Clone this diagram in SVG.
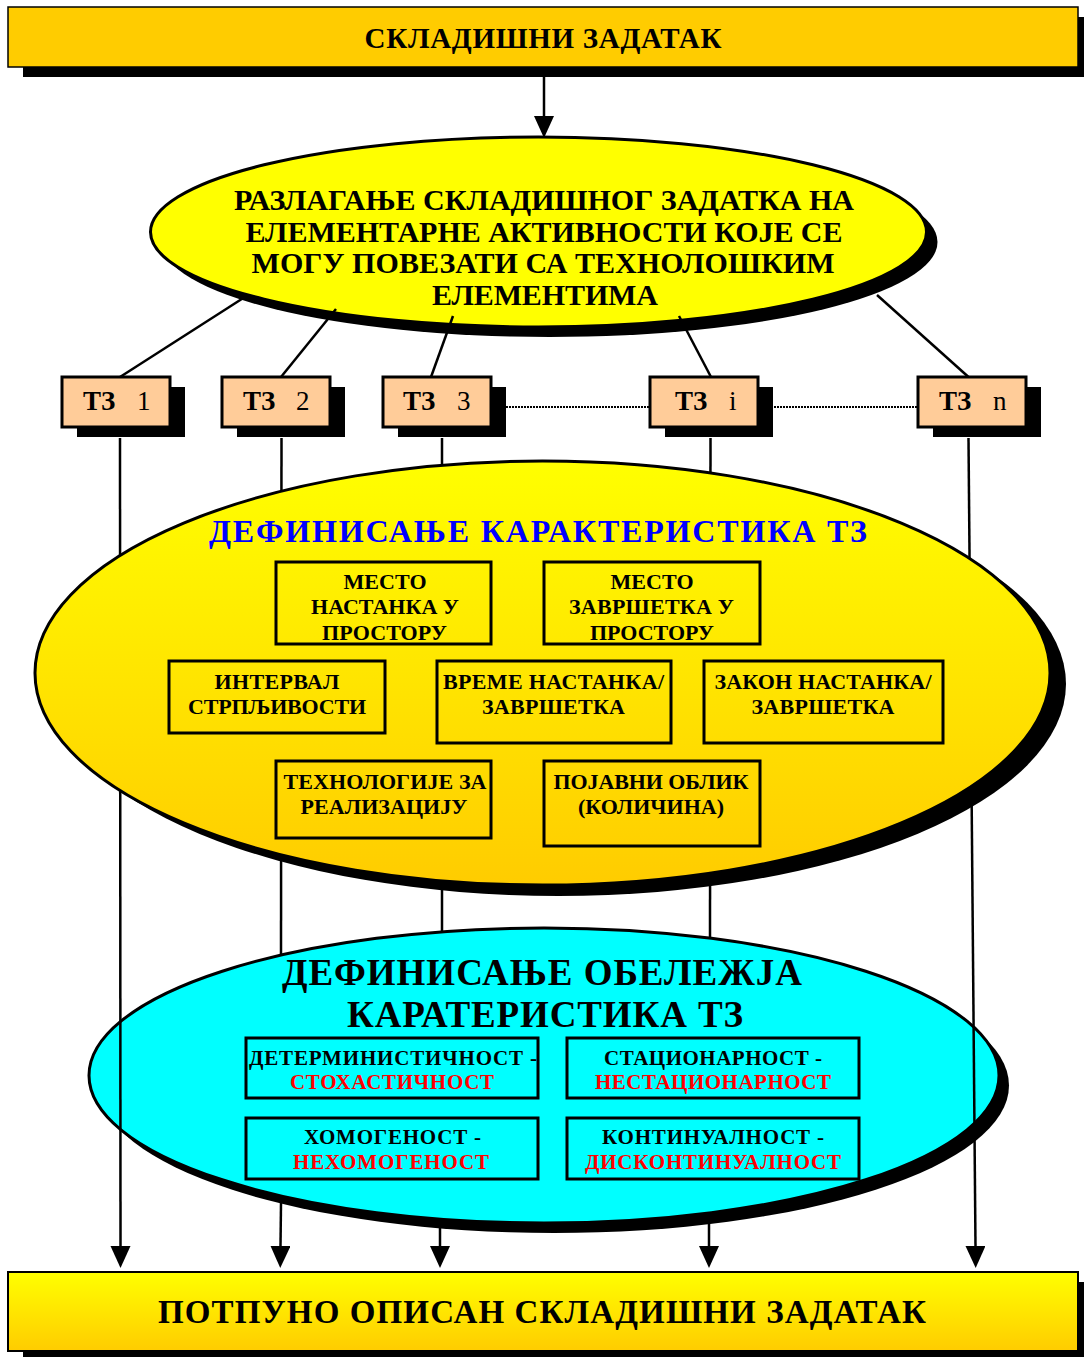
<svg xmlns="http://www.w3.org/2000/svg" width="1084" height="1357" viewBox="0 0 1084 1357">
<style>
.t{font-family:"Liberation Serif","Times New Roman","DejaVu Serif",serif;font-weight:bold;text-anchor:middle;fill:#000}
.r{fill:#FF0000}
.sh{fill:#000}
.ln{stroke:#000;stroke-width:2.5;fill:none}
.dot{stroke:#000;stroke-width:2;stroke-dasharray:2 1;fill:none}
.tz{fill:#FFCC99;stroke:#000;stroke-width:3}
.sb{fill:none;stroke:#000;stroke-width:3}
.tzt{font-family:"Liberation Serif","Times New Roman","DejaVu Serif",serif;font-size:27px;fill:#000}
</style>
<defs>
<linearGradient id="gy" x1="0" y1="0" x2="0" y2="1">
<stop offset="0" stop-color="#FFFF00"/>
<stop offset="1" stop-color="#FFCC00"/>
</linearGradient>
<marker id="ah" markerUnits="userSpaceOnUse" markerWidth="24" markerHeight="22" refX="0" refY="10" orient="auto">
<path d="M0,0 L22,10 L0,20 Z" fill="#000"/>
</marker>
</defs>

<g id="node-top">
<rect x="23" y="17" width="1070" height="60" class="sh"/>
<rect x="8" y="7" width="1070" height="60" fill="#FFCC00" stroke="#000" stroke-width="1.5"/>
<text class="t" x="543" y="48" font-size="29" textLength="357">СКЛАДИШНИ ЗАДАТАК</text>
</g>

<g id="node-decompose">
<ellipse cx="549.5" cy="242" rx="388" ry="95" class="sh"/>
<ellipse cx="538.5" cy="232" rx="388" ry="95" fill="#FFFF00" stroke="#000" stroke-width="3"/>
<text class="t" x="544" y="210" font-size="30" textLength="620">РАЗЛАГАЊЕ СКЛАДИШНОГ ЗАДАТКА НА</text>
<text class="t" x="544" y="242" font-size="30" textLength="597">ЕЛЕМЕНТАРНЕ АКТИВНОСТИ КОЈЕ СЕ</text>
<text class="t" x="543" y="273" font-size="30" textLength="583">МОГУ ПОВЕЗАТИ СА ТЕХНОЛОШКИМ</text>
<text class="t" x="545" y="305" font-size="30" textLength="226">ЕЛЕМЕНТИМА</text>
</g>

<g id="node-tz1">
<rect x="77" y="387" width="108" height="50" class="sh"/>
<rect x="62" y="377" width="108" height="50" class="tz"/>
<text class="tzt" x="83" y="410"><tspan font-weight="bold">ТЗ</tspan><tspan x="137">1</tspan></text>
</g>
<g id="node-tz2">
<rect x="237" y="387" width="108" height="50" class="sh"/>
<rect x="222" y="377" width="108" height="50" class="tz"/>
<text class="tzt" x="243" y="410"><tspan font-weight="bold">ТЗ</tspan><tspan x="296">2</tspan></text>
</g>
<g id="node-tz3">
<rect x="398" y="387" width="108" height="50" class="sh"/>
<rect x="383" y="377" width="108" height="50" class="tz"/>
<text class="tzt" x="403" y="410"><tspan font-weight="bold">ТЗ</tspan><tspan x="457">3</tspan></text>
</g>
<g id="node-tzi">
<rect x="665" y="387" width="108" height="50" class="sh"/>
<rect x="650" y="377" width="108" height="50" class="tz"/>
<text class="tzt" x="675" y="410"><tspan font-weight="bold">ТЗ</tspan><tspan x="729">i</tspan></text>
</g>
<g id="node-tzn">
<rect x="933" y="387" width="108" height="50" class="sh"/>
<rect x="918" y="377" width="108" height="50" class="tz"/>
<text class="tzt" x="939" y="410"><tspan font-weight="bold">ТЗ</tspan><tspan x="993">n</tspan></text>
</g>

<g id="node-features">
<ellipse cx="554" cy="1085.5" rx="455" ry="147.5" class="sh"/>
<ellipse cx="544" cy="1075.5" rx="455" ry="147.5" fill="#00FFFF" stroke="#000" stroke-width="3"/>
<text class="t" x="542" y="985" font-size="37" textLength="520">ДЕФИНИСАЊЕ ОБЕЛЕЖЈА</text>
<text class="t" x="545" y="1027" font-size="37" textLength="396">КАРАТЕРИСТИКА ТЗ</text>
<rect x="246" y="1038" width="292" height="60" class="sb"/>
<text class="t" x="393" y="1065" font-size="21" textLength="288">ДЕТЕРМИНИСТИЧНОСТ -</text>
<text class="t r" x="392" y="1089" font-size="21" textLength="204">СТОХАСТИЧНОСТ</text>
<rect x="567" y="1038" width="292" height="60" class="sb"/>
<text class="t" x="713" y="1065" font-size="21" textLength="218">СТАЦИОНАРНОСТ -</text>
<text class="t r" x="713" y="1089" font-size="21" textLength="236">НЕСТАЦИОНАРНОСТ</text>
<rect x="246" y="1118" width="292" height="61" class="sb"/>
<text class="t" x="392.5" y="1144" font-size="21" textLength="177">ХОМОГЕНОСТ -</text>
<text class="t r" x="391" y="1169" font-size="21" textLength="196">НЕХОМОГЕНОСТ</text>
<rect x="567" y="1118" width="292" height="61" class="sb"/>
<text class="t" x="713" y="1144" font-size="21" textLength="222">КОНТИНУАЛНОСТ -</text>
<text class="t r" x="713" y="1169" font-size="21" textLength="256">ДИСКОНТИНУАЛНОСТ</text>
</g>

<g id="connectors">
<line class="ln" x1="544" y1="77" x2="544" y2="116" marker-end="url(#ah)"/>
<line class="ln" x1="248" y1="295" x2="120" y2="377"/>
<line class="ln" x1="336" y1="309" x2="281" y2="377"/>
<line class="ln" x1="453" y1="316" x2="431" y2="377"/>
<line class="ln" x1="679" y1="316" x2="711" y2="377"/>
<line class="ln" x1="877" y1="295" x2="968.5" y2="377"/>
<line class="dot" x1="506" y1="407" x2="650" y2="407"/>
<line class="dot" x1="774" y1="407" x2="918" y2="407"/>
<line class="ln" x1="120" y1="438" x2="120.5" y2="1246" marker-end="url(#ah)"/>
<line class="ln" x1="281.5" y1="438" x2="281" y2="955"/>
<line class="ln" x1="281" y1="1203" x2="280.5" y2="1246" marker-end="url(#ah)"/>
<line class="ln" x1="442" y1="438" x2="442" y2="932"/>
<line class="ln" x1="440" y1="1228" x2="440" y2="1246" marker-end="url(#ah)"/>
<line class="ln" x1="710.5" y1="438" x2="710" y2="938"/>
<line class="ln" x1="709" y1="1224" x2="709" y2="1246" marker-end="url(#ah)"/>
<line class="ln" x1="968.5" y1="438" x2="975.5" y2="1246" marker-end="url(#ah)"/>
</g>

<g id="node-characteristics">
<ellipse cx="558.5" cy="684" rx="507.5" ry="212" class="sh"/>
<ellipse cx="542.5" cy="673" rx="507.5" ry="212" fill="url(#gy)" stroke="#000" stroke-width="3"/>
<text class="t" x="538" y="542" font-size="32" textLength="658" style="fill:#0000FF">ДЕФИНИСАЊЕ КАРАКТЕРИСТИКА ТЗ</text>
<rect x="276" y="562" width="215" height="82" class="sb"/>
<text class="t" x="385" y="589" font-size="22" textLength="83">МЕСТО</text>
<text class="t" x="385" y="614" font-size="22" textLength="148">НАСТАНКА У</text>
<text class="t" x="384.5" y="640" font-size="22" textLength="125">ПРОСТОРУ</text>
<rect x="544" y="562" width="216" height="82" class="sb"/>
<text class="t" x="652" y="589" font-size="22" textLength="83">МЕСТО</text>
<text class="t" x="651.5" y="614" font-size="22" textLength="165">ЗАВРШЕТКА У</text>
<text class="t" x="652" y="640" font-size="22" textLength="124">ПРОСТОРУ</text>
<rect x="169" y="661" width="216" height="72" class="sb"/>
<text class="t" x="277" y="689" font-size="22" textLength="125">ИНТЕРВАЛ</text>
<text class="t" x="277" y="714" font-size="22" textLength="178">СТРПЉИВОСТИ</text>
<rect x="437" y="661" width="234" height="82" class="sb"/>
<text class="t" x="553.5" y="689" font-size="22" textLength="221">ВРЕМЕ НАСТАНКА/</text>
<text class="t" x="553.5" y="714" font-size="22" textLength="143">ЗАВРШЕТКА</text>
<rect x="704" y="661" width="239" height="82" class="sb"/>
<text class="t" x="823" y="689" font-size="22" textLength="217">ЗАКОН НАСТАНКА/</text>
<text class="t" x="823" y="714" font-size="22" textLength="143">ЗАВРШЕТКА</text>
<rect x="276" y="761" width="215" height="77" class="sb"/>
<text class="t" x="385" y="789" font-size="22" textLength="203">ТЕХНОЛОГИЈЕ ЗА</text>
<text class="t" x="384" y="814" font-size="22" textLength="167">РЕАЛИЗАЦИЈУ</text>
<rect x="544" y="761" width="216" height="85" class="sb"/>
<text class="t" x="651" y="789" font-size="22" textLength="195">ПОЈАВНИ ОБЛИК</text>
<text class="t" x="651" y="814" font-size="22" textLength="146">(КОЛИЧИНА)</text>
</g>

<g id="node-bottom">
<rect x="23" y="1282" width="1070" height="80" class="sh"/>
<rect x="8" y="1272" width="1070" height="79" fill="url(#gy)" stroke="#000" stroke-width="2"/>
<text class="t" x="542" y="1323" font-size="33" textLength="768">ПОТПУНО ОПИСАН СКЛАДИШНИ ЗАДАТАК</text>
</g>
</svg>
